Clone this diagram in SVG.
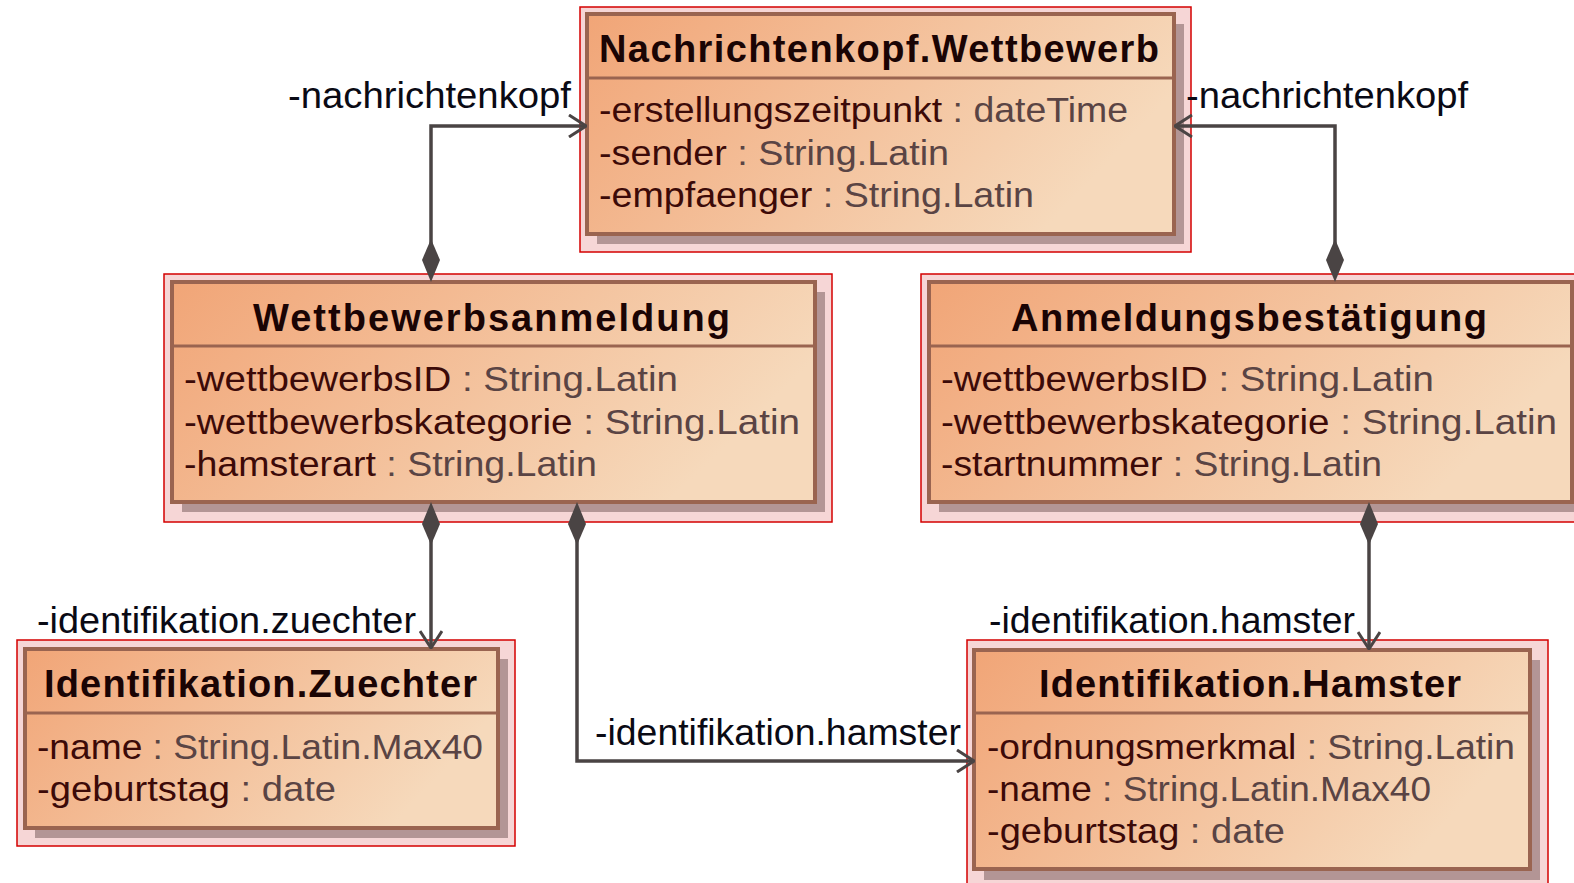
<svg xmlns="http://www.w3.org/2000/svg" width="1574" height="883" viewBox="0 0 1574 883">
<defs>
<linearGradient id="fill" x1="0" y1="0" x2="1" y2="0.35">
<stop offset="0" stop-color="#f1a577"/>
<stop offset="1" stop-color="#f6d9bb"/>
</linearGradient>
<marker id="open" viewBox="0 0 20 24" refX="19" refY="12" markerWidth="20" markerHeight="24" markerUnits="userSpaceOnUse" orient="auto">
<path d="M2,1 L19,12 L2,23" fill="none" stroke="#4a4444" stroke-width="3"/>
</marker>
</defs>
<style>
.sel{fill:#f6d6d6;stroke:#d40000;stroke-width:1.5}
.shadow{fill:#b39595}
.box{fill:url(#fill);stroke:#9a6450;stroke-width:4}
.sep{stroke:#9a6450;stroke-width:3}
.title{font-family:"Liberation Sans",Arial,sans-serif;font-weight:bold;font-size:38px;fill:#1a0404}
.attr{font-family:"Liberation Sans",Arial,sans-serif;font-size:35px;fill:#3c0a08}
.type{fill:#5a4444}
.lbl{font-family:"Liberation Sans",Arial,sans-serif;font-size:36px;fill:#0a0a14}
.line{fill:none;stroke:#4a4444;stroke-width:3.5}
.dia{fill:#4a4444}
</style>
<rect width="1574" height="883" fill="#ffffff"/>

<g id="nachrichtenkopf">
<rect class="sel" x="580" y="7" width="611" height="245"/>
<rect class="shadow" x="597" y="24" width="587" height="220"/>
<rect class="box" x="587" y="14" width="587" height="220"/>
<line class="sep" x1="587" y1="78" x2="1174" y2="78"/>
<text class="title" x="599" y="62" textLength="560" lengthAdjust="spacing">Nachrichtenkopf.Wettbewerb</text>
<text class="attr" x="599" y="122" textLength="529" lengthAdjust="spacingAndGlyphs">-erstellungszeitpunkt<tspan class="type"> : dateTime</tspan></text>
<text class="attr" x="599" y="165" textLength="350" lengthAdjust="spacingAndGlyphs">-sender<tspan class="type"> : String.Latin</tspan></text>
<text class="attr" x="599" y="207" textLength="435" lengthAdjust="spacingAndGlyphs">-empfaenger<tspan class="type"> : String.Latin</tspan></text>
</g>

<g id="wettbewerbsanmeldung">
<rect class="sel" x="164" y="274" width="668" height="248"/>
<rect class="shadow" x="182" y="292" width="643" height="220"/>
<rect class="box" x="172" y="282" width="643" height="220"/>
<line class="sep" x1="172" y1="346" x2="815" y2="346"/>
<text class="title" x="253" y="331" textLength="477" lengthAdjust="spacing">Wettbewerbsanmeldung</text>
<text class="attr" x="184" y="391" textLength="494" lengthAdjust="spacingAndGlyphs">-wettbewerbsID<tspan class="type"> : String.Latin</tspan></text>
<text class="attr" x="184" y="434" textLength="616" lengthAdjust="spacingAndGlyphs">-wettbewerbskategorie<tspan class="type"> : String.Latin</tspan></text>
<text class="attr" x="184" y="476" textLength="413" lengthAdjust="spacingAndGlyphs">-hamsterart<tspan class="type"> : String.Latin</tspan></text>
</g>

<g id="anmeldungsbestaetigung">
<rect class="sel" x="921" y="274" width="670" height="248"/>
<rect class="shadow" x="939" y="292" width="643" height="220"/>
<rect class="box" x="929" y="282" width="643" height="220"/>
<line class="sep" x1="929" y1="346" x2="1572" y2="346"/>
<text class="title" x="1011" y="331" textLength="476" lengthAdjust="spacing">Anmeldungsbestätigung</text>
<text class="attr" x="941" y="391" textLength="493" lengthAdjust="spacingAndGlyphs">-wettbewerbsID<tspan class="type"> : String.Latin</tspan></text>
<text class="attr" x="941" y="434" textLength="616" lengthAdjust="spacingAndGlyphs">-wettbewerbskategorie<tspan class="type"> : String.Latin</tspan></text>
<text class="attr" x="941" y="476" textLength="441" lengthAdjust="spacingAndGlyphs">-startnummer<tspan class="type"> : String.Latin</tspan></text>
</g>

<g id="identifikation-zuechter">
<rect class="sel" x="17" y="640" width="498" height="206"/>
<rect class="shadow" x="35" y="659" width="473" height="179"/>
<rect class="box" x="25" y="649" width="473" height="179"/>
<line class="sep" x1="25" y1="713" x2="498" y2="713"/>
<text class="title" x="44" y="697" textLength="433" lengthAdjust="spacing">Identifikation.Zuechter</text>
<text class="attr" x="37" y="759" textLength="446" lengthAdjust="spacingAndGlyphs">-name<tspan class="type"> : String.Latin.Max40</tspan></text>
<text class="attr" x="37" y="801" textLength="299" lengthAdjust="spacingAndGlyphs">-geburtstag<tspan class="type"> : date</tspan></text>
</g>

<g id="identifikation-hamster">
<rect class="sel" x="967" y="640" width="581" height="250"/>
<rect class="shadow" x="984" y="660" width="556" height="220"/>
<rect class="box" x="974" y="650" width="556" height="219"/>
<line class="sep" x1="974" y1="713" x2="1530" y2="713"/>
<text class="title" x="1039" y="697" textLength="422" lengthAdjust="spacing">Identifikation.Hamster</text>
<text class="attr" x="987" y="759" textLength="528" lengthAdjust="spacingAndGlyphs">-ordnungsmerkmal<tspan class="type"> : String.Latin</tspan></text>
<text class="attr" x="987" y="801" textLength="444" lengthAdjust="spacingAndGlyphs">-name<tspan class="type"> : String.Latin.Max40</tspan></text>
<text class="attr" x="987" y="843" textLength="298" lengthAdjust="spacingAndGlyphs">-geburtstag<tspan class="type"> : date</tspan></text>
</g>

<g id="connectors">
<path class="line" d="M431,260 L431,126 L586,126" marker-end="url(#open)"/>
<path class="dia" d="M431,239 L440,260 L431,282 L422,260 Z"/>
<path class="line" d="M1335,260 L1335,126 L1175,126" marker-end="url(#open)"/>
<path class="dia" d="M1335,239 L1344,260 L1335,282 L1326,260 Z"/>
<path class="line" d="M431,524 L431,648" marker-end="url(#open)"/>
<path class="dia" d="M431,502 L440,524 L431,545 L422,524 Z"/>
<path class="line" d="M577,524 L577,761 L974,761" marker-end="url(#open)"/>
<path class="dia" d="M577,502 L586,524 L577,545 L568,524 Z"/>
<path class="line" d="M1369,524 L1369,649" marker-end="url(#open)"/>
<path class="dia" d="M1369,502 L1378,524 L1369,545 L1360,524 Z"/>
<text class="lbl" x="288" y="108" textLength="283" lengthAdjust="spacingAndGlyphs">-nachrichtenkopf</text>
<text class="lbl" x="1186" y="108" textLength="282" lengthAdjust="spacingAndGlyphs">-nachrichtenkopf</text>
<text class="lbl" x="37" y="633" textLength="379" lengthAdjust="spacingAndGlyphs">-identifikation.zuechter</text>
<text class="lbl" x="595" y="745" textLength="366" lengthAdjust="spacingAndGlyphs">-identifikation.hamster</text>
<text class="lbl" x="989" y="633" textLength="366" lengthAdjust="spacingAndGlyphs">-identifikation.hamster</text>
</g>
</svg>
